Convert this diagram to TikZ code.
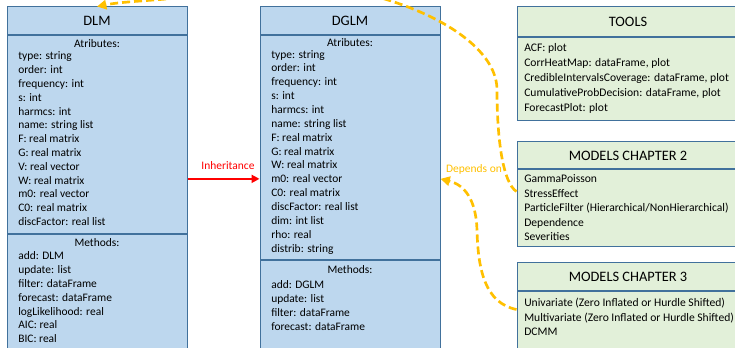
\documentclass[tikz,border=0pt]{standalone}
\usepackage{fontspec}
\setmainfont{Carlito}
\usetikzlibrary{arrows.meta,positioning}

\definecolor{classblue}{HTML}{BDD7EE}
\definecolor{toolgreen}{HTML}{E2F0D9}
\definecolor{frameblue}{HTML}{41719C}
\definecolor{inhred}{HTML}{FF0000}
\definecolor{deporange}{HTML}{FFC000}

\begin{document}
\begin{tikzpicture}[
    x=0.75pt, y=-0.75pt,
    classnode/.style={draw=frameblue, line width=0.75pt, fill=classblue, minimum width=135pt, inner sep=0pt},
    toolnode/.style={draw=frameblue, line width=0.75pt, fill=toolgreen, minimum width=166.5pt, inner sep=0pt},
    titlenode/.style={font=\fontsize{10.8}{13}\selectfont},
    headnode/.style={font=\fontsize{8.6}{10}\selectfont, inner sep=0pt, anchor=base},
    membernode/.style={font=\fontsize{8.6}{10}\selectfont, inner sep=0pt, anchor=base west},
    itemnode/.style={font=\fontsize{8.7}{10}\selectfont, inner sep=0pt, anchor=base west},
    inherit/.style={draw=inhred, line width=1.5pt, -{Triangle[length=6pt, width=6pt]}},
    depends/.style={draw=deporange, line width=2pt, dash pattern=on 6pt off 3pt, -{Triangle[length=7pt, width=7pt]}}
]
\useasboundingbox (0,0) rectangle (735,348);
\clip (0,0) rectangle (735,348);

% DLM class
\node[classnode, titlenode, minimum height=21pt] (dlm) at (97,21) {DLM};
\node[classnode, minimum height=148.5pt, below=0pt of dlm] (dlmattr) {};
\node[classnode, minimum height=99pt, below=0pt of dlmattr] (dlmmeth) {};
\node[headnode] (dlmattrhead) at (97,48) {Atributes:};
\foreach \txt [count=\i] in {type: string, order: int, frequency: int, s: int, harmcs: int,
    name: string list, F: real matrix, G: real matrix, V: real vector, W: real matrix,
    m0: real vector, C0: real matrix, discFactor: real list}
    \node[membernode] (dlma-\i) at (18, 46.2+13.8*\i) {\txt};
\node[headnode] (dlmmethhead) at (97,247) {Methods:};
\foreach \txt [count=\i] in {add: DLM, update: list, filter: dataFrame, forecast: dataFrame,
    logLikelihood: real, AIC: real, BIC: real}
    \node[membernode] (dlmm-\i) at (18, 246.2+13.8*\i) {\txt};

% DGLM class
\node[classnode, titlenode, minimum height=21pt] (dglm) at (350,21) {DGLM};
\node[classnode, minimum height=168pt, below=0pt of dglm] (dglmattr) {};
\node[classnode, minimum height=79.5pt, below=0pt of dglmattr] (dglmmeth) {};
\node[headnode] (dglmattrhead) at (350,47) {Atributes:};
\foreach \txt [count=\i] in {type: string, order: int, frequency: int, s: int, harmcs: int,
    name: string list, F: real matrix, G: real matrix, W: real matrix, m0: real vector,
    C0: real matrix, discFactor: real list, dim: int list, rho: real, distrib: string}
    \node[membernode] (dglma-\i) at (271, 44.2+13.86*\i) {\txt};
\node[headnode] (dglmmethhead) at (350,274) {Methods:};
\foreach \txt [count=\i] in {add: DGLM, update: list, filter: dataFrame, forecast: dataFrame}
    \node[membernode] (dglmm-\i) at (271, 275.2+13.8*\i) {\txt};

% tools and model boxes
\node[toolnode, titlenode, minimum height=22.5pt] (tools) at (628,22) {TOOLS};
\node[toolnode, minimum height=62.25pt, below=0pt of tools] (toolsbody) {};
\foreach \txt [count=\i] in {ACF: plot, {CorrHeatMap: dataFrame, plot},
    {CredibleIntervalsCoverage: dataFrame, plot}, {CumulativeProbDecision: dataFrame, plot},
    ForecastPlot: plot}
    \node[itemnode] (toolsi-\i) at (524, 37+15*\i) {\txt};

\node[toolnode, titlenode, minimum height=20.25pt] (chtwo) at (628,155.5) {MODELS CHAPTER 2};
\node[toolnode, minimum height=57.75pt, below=0pt of chtwo] (chtwobody) {};
\foreach \txt [count=\i] in {GammaPoisson, StressEffect,
    ParticleFilter (Hierarchical/NonHierarchical), Dependence, Severities}
    \node[itemnode] (chtwoi-\i) at (524, 168.5+14.5*\i) {\txt};

\node[toolnode, titlenode, minimum height=21pt] (chthree) at (628,277) {MODELS CHAPTER 3};
\node[toolnode, minimum height=55.5pt, below=0pt of chthree] (chthreebody) {};
\foreach \txt [count=\i] in {Univariate (Zero Inflated or Hurdle Shifted),
    Multivariate (Zero Inflated or Hurdle Shifted), DCMM}
    \node[itemnode] (chthreei-\i) at (524, 292.5+14.5*\i) {\txt};

% Inheritance
\draw[inherit] (dlmattr.east |- dglma-10) -- (dglmattr.west |- dglma-10);
\node[membernode, anchor=base, text=inhred] (inhlabel) at (228,170) {Inheritance};

% Dependencies
\coordinate (chtwofrom) at ([yshift=12.75pt]chtwobody.west);
\coordinate (chthreefrom) at ([yshift=-13.5pt]chthreebody.north west);
\draw[depends] (chtwofrom) .. controls (503,183) and (497,140) .. (497,90)
    .. controls (497,20) and (330,-35) .. (230,-10)
    .. controls (190,0) and (130,0) .. (dlm.north);
\draw[depends] (chthreefrom) .. controls (485,303) and (478,270) .. (477,230)
    .. controls (476,200) and (465,185) .. (dglmattr.east |- dglma-10);
\node[membernode, anchor=base, text=deporange] (deplabel) at (474,173) {Depends on};

\end{tikzpicture}
\end{document}
